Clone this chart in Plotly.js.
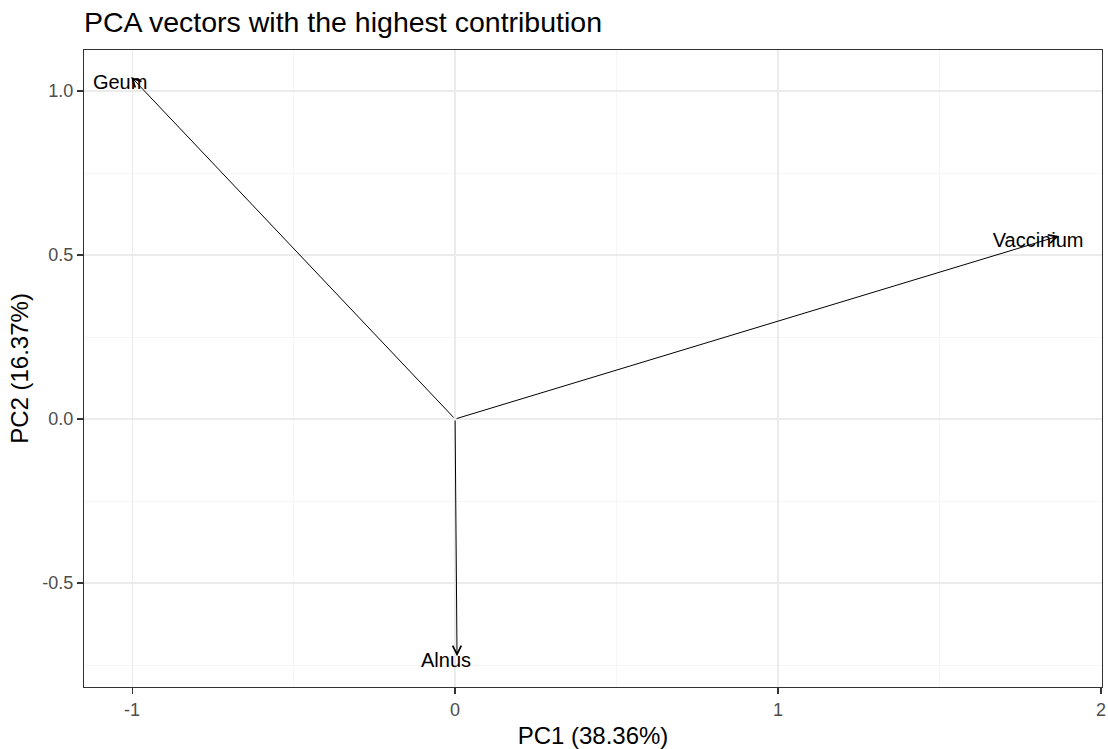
<!DOCTYPE html>
<html>
<head>
<meta charset="utf-8">
<script src="https://cdn.plot.ly/plotly-3.0.1.min.js"></script>
<style>html,body{margin:0;padding:0;background:#fff;}#chart{width:1108px;height:749px;}</style>
</head>
<body>
<div id="chart"></div>
<script>
// Variable loadings (arrow tips) on PC1 / PC2
var variables = ["Geum", "Vaccinium", "Alnus"];
var pc1 = [-1.003, 1.870, 0.006];
var pc2 = [1.043, 0.558, -0.723];
// Label anchor points (data units)
var labelX = [-1.037, 1.805, -0.028];
var labelY = [1.021, 0.540, -0.741];

var xTicks = [-1, 0, 1, 2];
var yTicks = [-0.5, 0.0, 0.5, 1.0];
var yTickText = ["-0.5", "0.0", "0.5", "1.0"];

var FONT = "Liberation Sans, Arial, sans-serif";

var annotations = [];
for (var i = 0; i < variables.length; i++) {
  annotations.push({
    x: pc1[i], y: pc2[i], xref: "x", yref: "y",
    ax: 0, ay: 0, axref: "x", ayref: "y",
    text: "", showarrow: true,
    arrowhead: 5, arrowsize: 1.7, arrowwidth: 1, arrowcolor: "#000000",
    standoff: 0, startstandoff: 0
  });
}

var traces = [{
  type: "scatter", mode: "text",
  x: labelX, y: labelY, text: variables,
  textposition: "middle center",
  textfont: {family: FONT, size: 20, color: "#000000"},
  hoverinfo: "skip", showlegend: false
}];

var axisCommon = {
  showline: true, linecolor: "#333333", linewidth: 1.2, mirror: true,
  ticks: "outside", ticklen: 6, tickcolor: "#333333", tickwidth: 1.2,
  tickfont: {family: FONT, size: 18, color: "#4d4d4d"},
  showgrid: true, gridcolor: "#ebebeb", gridwidth: 1.2,
  zeroline: false
};

var layout = {
  width: 1108, height: 749,
  paper_bgcolor: "#ffffff", plot_bgcolor: "#ffffff",
  margin: {l: 84, r: 6, t: 50, b: 62},
  showlegend: false,
  title: {
    text: "PCA vectors with the highest contribution",
    font: {family: FONT, size: 28.5, color: "#000000"},
    x: 0, xref: "paper", xanchor: "left",
    y: 1, yref: "paper", yanchor: "bottom",
    pad: {b: 18}
  },
  xaxis: Object.assign({}, axisCommon, {
    range: [-1.149, 2.003],
    tickmode: "array", tickvals: xTicks, ticktext: xTicks.map(String),
    minor: {showgrid: true, gridcolor: "#f4f4f4", gridwidth: 0.8, tickvals: [-0.5, 0.5, 1.5]},
    title: {text: "PC1 (38.36%)", font: {family: FONT, size: 24, color: "#000000"}, standoff: 10}
  }),
  yaxis: Object.assign({}, axisCommon, {
    range: [-0.817, 1.125],
    tickmode: "array", tickvals: yTicks, ticktext: yTickText,
    minor: {showgrid: true, gridcolor: "#f4f4f4", gridwidth: 0.8, tickvals: [-0.75, -0.25, 0.25, 0.75]},
    title: {text: "PC2 (16.37%)", font: {family: FONT, size: 24, color: "#000000"}, standoff: 6}
  }),
  annotations: annotations
};

Plotly.newPlot("chart", traces, layout, {displayModeBar: false, staticPlot: true});
</script>
</body>
</html>
